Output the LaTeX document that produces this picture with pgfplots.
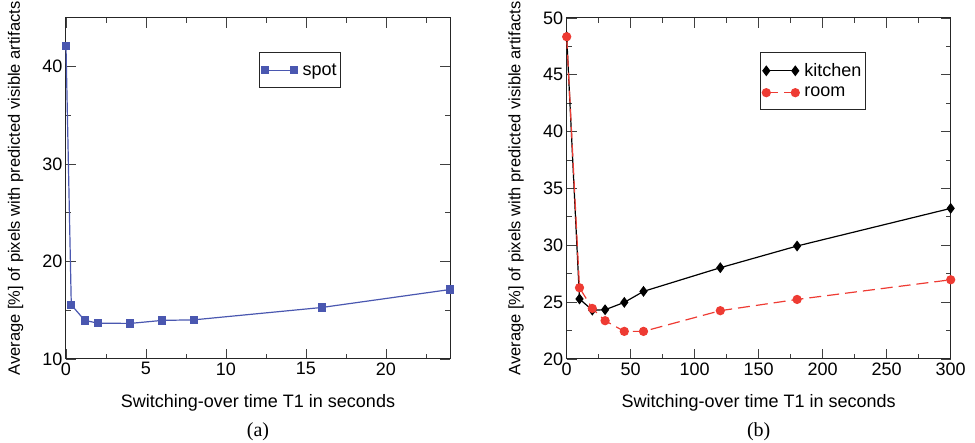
\documentclass[border=0pt]{standalone}
\usepackage{pgfplots}
\pgfplotsset{compat=1.18}
\usepackage{fontspec}
\setmainfont{Liberation Sans}
\newfontfamily\serifabc{Liberation Serif}
\definecolor{spotblue}{HTML}{4A57B0}
\definecolor{roomred}{HTML}{EE3B33}
\pgfplotsset{
  myaxis/.style={
    scale only axis, width=384pt, height=341pt,
    axis line style={line width=1pt, black!85},
    every tick/.style={line width=0.9pt, black!75},
    major tick length=10pt, minor tick length=5pt,
    tick align=inside,
    xtick pos=both, ytick pos=both,
    tick label style={font=\fontsize{18}{20}\selectfont},
    /pgf/number format/assume math mode=true,
    label style={font=\fontsize{18}{20}\selectfont},
    xlabel style={at={(axis description cs:0.5,-0.129)}, anchor=center},
    ylabel style={at={(axis description cs:-0.1315,0.5)}, anchor=center, font=\fontsize{16.5}{18}\selectfont},
    legend cell align=left,
    legend style={at={(0.503,0.900)}, anchor=north west, draw=black!85, line width=0.9pt,
      font=\fontsize{18}{20}\selectfont, inner xsep=2pt, inner ysep=9pt, row sep=5pt,
      /tikz/every odd column/.append style={column sep=3pt}},
    legend image code/.code={\draw plot coordinates {(0pt,0pt) (29pt,0pt)};},
    xlabel={Switching-over time T1 in seconds},
    ylabel={Average [\%] of pixels with predicted visible artifacts},
  }
}
\begin{document}
\begin{tikzpicture}
\useasboundingbox (0pt,0pt) rectangle (975pt,443pt);
\begin{axis}[myaxis, at={(66pt,84pt)}, anchor=south west,
  xmin=0, xmax=24, ymin=10, ymax=45,
  xtick={0,5,10,15,20}, minor xtick={2.5,7.5,12.5,17.5,22.5},
  ytick={10,20,30,40}, minor ytick={15,25,35},
  clip=false]
\addplot[spotblue, line width=1.2pt, mark=square*, mark size=3.5pt, mark options={solid}]
coordinates {(0,42.1) (0.33,15.56) (1.17,13.96) (2,13.68) (4,13.65) (6,13.96) (8,14.02) (16,15.29) (24,17.13)};
\addlegendentry{spot}
\node[font=\serifabc\fontsize{20}{22}\selectfont] at (axis description cs:0.5,-0.214) {(a)};
\end{axis}
\begin{axis}[myaxis, at={(566.7pt,84pt)}, anchor=south west,
  xmin=0, xmax=300, ymin=20, ymax=50,
  xtick={0,50,100,150,200,250,300}, minor xtick={25,75,125,175,225,275},
  ytick={20,25,30,35,40,45,50}, minor ytick={22.5,27.5,32.5,37.5,42.5,47.5},
  clip=false]
\addplot[black, line width=1.2pt, mark=diamond*, mark size=4.5pt, mark options={solid}]
coordinates {(0,48.35) (10,25.28) (20,24.3) (30,24.33) (45,24.98) (60,25.95) (120,28.03) (180,29.94) (300,33.25)};
\addlegendentry{kitchen}
\addplot[roomred, line width=1.2pt, dash pattern=on 12pt off 6pt, mark=*, mark size=4pt, mark options={solid}]
coordinates {(0,48.35) (10,26.27) (20,24.45) (30,23.37) (45,22.43) (60,22.43) (120,24.25) (180,25.24) (300,26.97)};
\addlegendentry{room}
\node[font=\serifabc\fontsize{20}{22}\selectfont] at (axis description cs:0.5,-0.214) {(b)};
\end{axis}
\end{tikzpicture}
\end{document}
